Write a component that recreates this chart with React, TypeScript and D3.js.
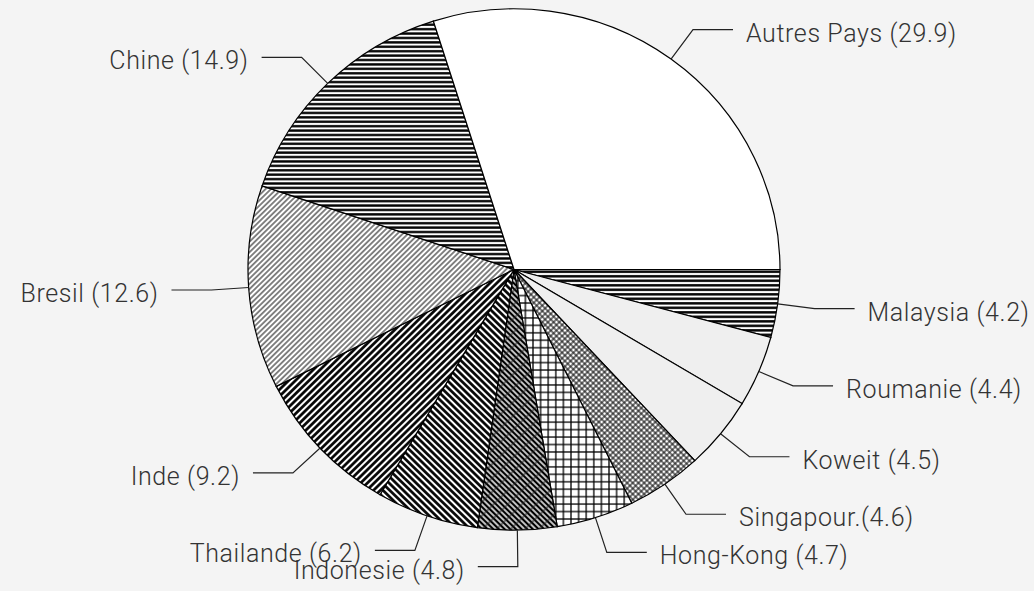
import React from "react";
import * as d3 from "d3";

const names = ["Malaysia", "Roumanie", "Koweit", "Singapour.", "Hong-Kong", "Indonesie", "Thailande", "Inde", "Bresil", "Chine", "Autres Pays"];
const values = [4.2, 4.4, 4.5, 4.6, 4.7, 4.8, 6.2, 9.2, 12.6, 14.9, 29.9];
const fills = ["url(#pMal)", "#efefef", "#efefef", "url(#pSin)", "url(#pHK)", "url(#pIdn)", "url(#pTha)", "url(#pInd)", "url(#pBre)", "url(#pChi)", "#ffffff"];

const W = 1034, H = 591;
const cx = 514, cy = 269.5, r = 266, ky = 0.98;

export default function App() {
  const pie = d3.pie<number>().sort(null).value((d) => d).startAngle(Math.PI / 2).endAngle(Math.PI / 2 + 2 * Math.PI);
  const arcs = pie(values);
  const arc = d3.arc<d3.PieArcDatum<number>>().innerRadius(0).outerRadius(r);
  const pt = (a: number, rho: number) => [cx + rho * Math.sin(a), cy - rho * Math.cos(a) * ky];

  return (
    <svg width={W} height={H} style={{ position: "absolute", left: 0, top: 0 }}>
      <defs>
        <pattern id="pMal" patternUnits="userSpaceOnUse" width={10} height={4.6}>
          <rect width={10} height={4.6} fill="#fff" />
          <line x1={0} x2={10} y1={2.3} y2={2.3} stroke="#000" strokeWidth={2.5} />
        </pattern>
        <pattern id="pChi" patternUnits="userSpaceOnUse" width={10} height={4.5}>
          <rect width={10} height={4.5} fill="#fff" />
          <line x1={0} x2={10} y1={2.25} y2={2.25} stroke="#000" strokeWidth={2.4} />
        </pattern>
        <pattern id="pSin" patternUnits="userSpaceOnUse" width={4} height={4} patternTransform="rotate(45)">
          <rect width={4} height={4} fill="#fff" />
          <line x1={0} x2={4} y1={2} y2={2} stroke="#111" strokeWidth={1.1} />
          <line x1={2} x2={2} y1={0} y2={4} stroke="#111" strokeWidth={1.1} />
        </pattern>
        <pattern id="pHK" patternUnits="userSpaceOnUse" width={7.6} height={7.6}>
          <rect width={7.6} height={7.6} fill="#fff" />
          <line x1={0} x2={7.6} y1={3.8} y2={3.8} stroke="#000" strokeWidth={1.3} />
          <line x1={3.8} x2={3.8} y1={0} y2={7.6} stroke="#000" strokeWidth={1.3} />
        </pattern>
        <pattern id="pIdn" patternUnits="userSpaceOnUse" width={10} height={4} patternTransform="rotate(45)">
          <rect width={10} height={4} fill="#fff" />
          <line x1={0} x2={10} y1={2} y2={2} stroke="#000" strokeWidth={2.5} />
          <line x1={5} x2={5} y1={0} y2={4} stroke="#222" strokeWidth={1} />
        </pattern>
        <pattern id="pTha" patternUnits="userSpaceOnUse" width={10} height={4.8} patternTransform="rotate(45)">
          <rect width={10} height={4.8} fill="#fff" />
          <line x1={0} x2={10} y1={2.4} y2={2.4} stroke="#000" strokeWidth={2.7} />
        </pattern>
        <pattern id="pInd" patternUnits="userSpaceOnUse" width={10} height={4.8} patternTransform="rotate(-45)">
          <rect width={10} height={4.8} fill="#fff" />
          <line x1={0} x2={10} y1={2.4} y2={2.4} stroke="#000" strokeWidth={2.7} />
        </pattern>
        <pattern id="pBre" patternUnits="userSpaceOnUse" width={10} height={3.8} patternTransform="rotate(-45)">
          <rect width={10} height={3.8} fill="#fff" />
          <line x1={0} x2={10} y1={1.9} y2={1.9} stroke="#333" strokeWidth={1.2} />
        </pattern>
      </defs>
      <rect width={W} height={H} fill="#f4f4f4" />
      <g transform={`translate(${cx},${cy}) scale(1,${ky})`}>
        {arcs.map((a, i) => (
          <path key={i} d={arc(a) as string} fill={fills[i]} stroke="#000" strokeWidth={1.2} />
        ))}
      </g>
      {arcs.map((a, i) => {
        const m = (a.startAngle + a.endAngle) / 2;
        const p0 = pt(m, r);
        const p1 = pt(m, r * 1.14);
        const right = Math.sin(m) > 0.05;
        const dir = right ? 1 : -1;
        const x2 = p1[0] + dir * 40;
        const tx = x2 + dir * 13;
        const label = `${names[i]}${names[i].endsWith(".") ? "" : " "}(${values[i].toFixed(1)})`;
        return (
          <g key={i}>
            <polyline points={`${p0[0]},${p0[1]} ${p1[0]},${p1[1]} ${x2},${p1[1]}`} fill="none" stroke="#222" strokeWidth={1.2} />
            <text x={tx} y={p1[1] + 12} textAnchor={right ? "start" : "end"} fontFamily="Roboto" fontWeight={300} fontSize={25} letterSpacing={0.6} fill="#333">
              {label}
            </text>
          </g>
        );
      })}
    </svg>
  );
}
